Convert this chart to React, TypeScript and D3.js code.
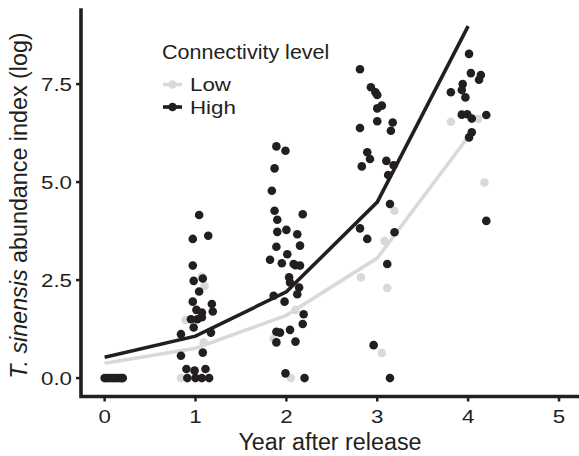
import React, { useEffect, useRef } from "react";
import * as d3 from "d3";

// trend lines (fitted) per year after release
const years = [0, 1, 2, 3, 4];
const lowTrend = [0.38, 0.76, 1.6, 3.06, 6.15];
const highTrend = [0.53, 1.07, 2.2, 4.49, 8.98];

// jittered observations: [year (jittered), log abundance]
const lowPoints: [number, number][] = [
  [0.02, 0], [0.1, 0], [0.17, 0],
  [1.07, 2.59], [1.1, 2.35], [0.89, 1.48], [1.09, 0.91], [0.84, 0],
  [2.1, 1.74], [2.05, 0], [1.86, 1.0],
  [3.19, 4.27], [3.08, 3.5], [2.82, 2.57], [3.11, 2.3], [3.05, 0.64],
  [3.81, 6.54], [4.11, 6.61], [4.18, 4.99],
];

const highPoints: [number, number][] = [
  [0, 0], [0.03, 0], [0.06, 0], [0.09, 0], [0.12, 0], [0.15, 0], [0.18, 0], [0.2, 0],
  [1.04, 4.16], [0.97, 3.55], [1.14, 3.63], [0.97, 2.87], [0.98, 2.48], [1.08, 2.54],
  [1.04, 2.21], [0.97, 1.95], [1.18, 1.89], [1.01, 1.74], [1.07, 1.67], [1.19, 1.7],
  [0.95, 1.5], [1.02, 1.5], [1.07, 1.55], [0.98, 1.29], [1.17, 1.16], [0.84, 1.12],
  [1.08, 0.65], [0.84, 0.57], [0.9, 0.23], [0.99, 0.19], [1.11, 0.23],
  [0.91, 0], [1.0, 0], [1.07, 0], [1.15, 0],
  [1.89, 5.91], [1.99, 5.8], [1.87, 5.35], [1.84, 4.78], [1.87, 4.27], [1.9, 4.04],
  [1.9, 3.73], [2.0, 3.78], [1.89, 3.35], [2.01, 3.16], [1.82, 3.02], [1.95, 2.93],
  [2.1, 2.88], [2.03, 2.57], [2.04, 2.44], [1.86, 2.1], [1.98, 1.95], [1.89, 1.18],
  [1.93, 1.16], [2.04, 1.23], [1.89, 0.91], [2.1, 0.93], [1.99, 0.12],
  [2.18, 4.18], [2.12, 3.67], [2.15, 3.38], [2.08, 2.91], [2.15, 2.87], [2.14, 2.31],
  [2.12, 2.14], [2.19, 1.63], [2.18, 1.38], [2.2, 0],
  [2.81, 7.88], [2.93, 7.42], [2.98, 7.29], [3.0, 7.22], [3.0, 6.88], [3.05, 6.95],
  [2.81, 6.38], [3.0, 6.55], [3.17, 6.52], [3.15, 6.31], [2.89, 5.76], [2.92, 5.59],
  [2.83, 5.4], [3.1, 5.54], [3.18, 5.43], [3.12, 5.18], [3.14, 4.44], [2.81, 3.82],
  [2.89, 3.55], [3.19, 3.72], [3.11, 2.91], [2.96, 0.84], [3.14, 0],
  [4.01, 8.27], [4.03, 7.78], [4.14, 7.73], [4.12, 7.61], [3.94, 7.5], [3.93, 7.35],
  [3.97, 7.16], [3.81, 7.29], [3.93, 6.72], [3.99, 6.73], [4.04, 6.62], [4.2, 6.71],
  [4.04, 6.27], [4.01, 6.14], [4.2, 4.01],
];

const xTicks = [0, 1, 2, 3, 4, 5];
const yTicks = [0, 2.5, 5, 7.5];
const levels = ["Low", "High"];

const ink = "#231f20";
const grey = "#d9d9d9";
const font = "'Liberation Sans', Arial, Helvetica, sans-serif";

function App() {
  const ref = useRef<SVGSVGElement>(null);

  useEffect(() => {
    document.body.style.margin = "0";
    const svg = d3.select(ref.current);
    svg.selectAll("*").remove();

    const x = d3.scaleLinear().domain([-0.26, 5.22]).range([81, 579]);
    const y = d3.scaleLinear().domain([-0.47, 9.39]).range([396.5, 10]);
    const color = d3.scaleOrdinal<string>().domain(levels).range([grey, ink]);

    const line = d3.line<number>()
      .x((d, i) => x(years[i]))
      .y(d => y(d));

    // trend lines
    svg.append("g")
      .selectAll("path")
      .data([{ key: "Low", v: lowTrend }, { key: "High", v: highTrend }])
      .join("path")
      .attr("d", d => line(d.v))
      .attr("fill", "none")
      .attr("stroke", d => color(d.key))
      .attr("stroke-width", 3.6);

    // points
    const pts = [
      ...lowPoints.map(p => ({ key: "Low", x: p[0], v: p[1] })),
      ...highPoints.map(p => ({ key: "High", x: p[0], v: p[1] })),
    ];
    svg.append("g")
      .selectAll("circle")
      .data(pts)
      .join("circle")
      .attr("cx", d => x(d.x))
      .attr("cy", d => y(d.v))
      .attr("r", 4.3)
      .attr("fill", d => color(d.key));

    // axis lines
    svg.append("path")
      .attr("d", `M${x.range()[0]},${y.range()[1]}V${y.range()[0]}H${x.range()[1]}`)
      .attr("fill", "none")
      .attr("stroke", ink)
      .attr("stroke-width", 3.6)
      .attr("stroke-linecap", "square");

    const x0 = x.range()[0];
    const y0 = y.range()[0];

    // y ticks
    const yt = svg.append("g").selectAll("g").data(yTicks).join("g");
    yt.append("line")
      .attr("x1", x0 - 5).attr("x2", x0)
      .attr("y1", d => y(d)).attr("y2", d => y(d))
      .attr("stroke", ink).attr("stroke-width", 2.5);
    yt.append("text")
      .attr("transform", d => `translate(${x0 - 9},${y(d) + 6.7}) scale(1.2,1)`)
      .attr("text-anchor", "end")
      .attr("font-family", font)
      .attr("font-size", 18.6)
      .attr("fill", ink)
      .text(d => d3.format(".1f")(d));

    // x ticks
    const xt = svg.append("g").selectAll("g").data(xTicks).join("g");
    xt.append("line")
      .attr("x1", d => x(d)).attr("x2", d => x(d))
      .attr("y1", y0).attr("y2", y0 + 5)
      .attr("stroke", ink).attr("stroke-width", 2.5);
    xt.append("text")
      .attr("transform", d => `translate(${x(d)},423.3) scale(1.2,1)`)
      .attr("text-anchor", "middle")
      .attr("font-family", font)
      .attr("font-size", 18.6)
      .attr("fill", ink)
      .text(d => d);

    // axis titles
    svg.append("text")
      .attr("x", (x.range()[0] + x.range()[1]) / 2)
      .attr("y", 450)
      .attr("text-anchor", "middle")
      .attr("font-family", font)
      .attr("font-size", 23.3)
      .attr("fill", ink)
      .text("Year after release");

    const yTitle = svg.append("text")
      .attr("transform", `translate(26.5,205.5) rotate(-90)`)
      .attr("text-anchor", "middle")
      .attr("font-family", font)
      .attr("font-size", 23.3)
      .attr("fill", ink);
    yTitle.append("tspan").attr("font-style", "italic").text("T. sinensis");
    yTitle.append("tspan").text(" abundance index (log)");

    // legend
    const lg = svg.append("g").attr("transform", "translate(162,0)");
    lg.append("text")
      .attr("transform", "translate(0,59) scale(1.05,1)")
      .attr("font-family", font)
      .attr("font-size", 20.5)
      .attr("fill", ink)
      .text("Connectivity level");
    const item = lg.selectAll("g.item")
      .data(levels)
      .join("g")
      .attr("class", "item")
      .attr("transform", (d, i) => `translate(0,${84.5 + i * 22.5})`);
    item.append("line")
      .attr("x1", 1).attr("x2", 20)
      .attr("stroke", d => color(d)).attr("stroke-width", 3.6);
    item.append("circle")
      .attr("cx", 10.5).attr("r", 4.3)
      .attr("fill", d => color(d));
    item.append("text")
      .attr("transform", "translate(28,6.7) scale(1.2,1)")
      .attr("font-family", font)
      .attr("font-size", 18.6)
      .attr("fill", ink)
      .text(d => d);
  }, []);

  return (
    <svg ref={ref} width={579} height={456} style={{ display: "block", background: "#fff" }} />
  );
}

export default App;
